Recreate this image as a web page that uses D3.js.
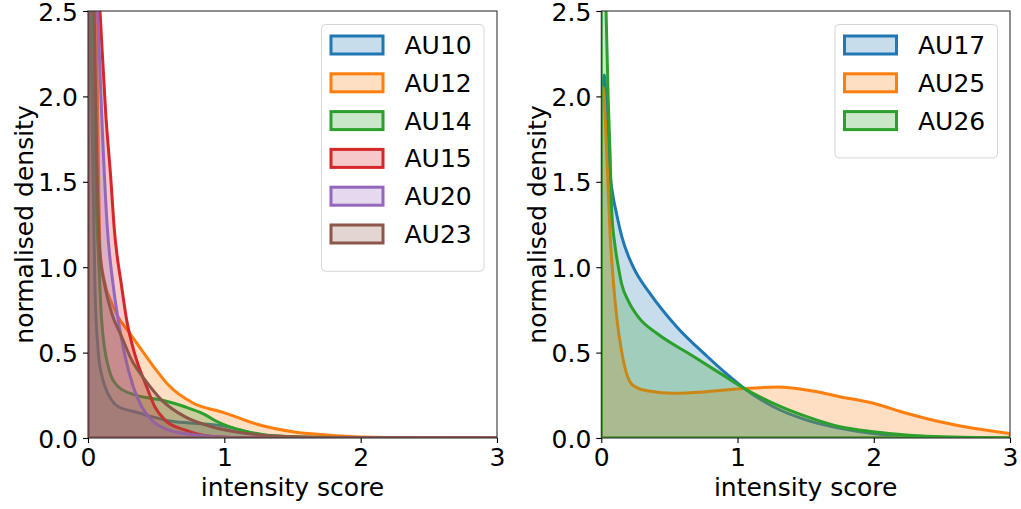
<!DOCTYPE html>
<html>
<head>
<meta charset="utf-8">
<script src="https://cdn.jsdelivr.net/npm/d3@7"></script>
<style>
  html, body { margin: 0; padding: 0; background: #fff; }
  svg { display: block; font-family: "DejaVu Sans", sans-serif; }
</style>
</head>
<body>
<svg id="chart" width="1021" height="509"></svg>
<script>
// Tick values shared by both panels
const xTicks = [0, 1, 2, 3];
const yTicks = [0, 0.5, 1.0, 1.5, 2.0, 2.5];

// Left panel: action units and their density curves
const leftNames = ["AU10", "AU12", "AU14", "AU15", "AU20", "AU23"];
const au10X = [0, 0.01, 0.02, 0.035, 0.051, 0.076, 0.1, 0.125, 0.17, 0.222, 0.345, 0.467, 0.614, 0.834, 1.0, 1.1, 1.25, 1.4, 1.8, 2.4, 3];
const au10Y = [5.2, 3.6, 2.5, 1.6, 0.886, 0.496, 0.37, 0.30, 0.225, 0.183, 0.154, 0.125, 0.098, 0.084, 0.07, 0.05, 0.022, 0.01, 0.002, 0.0005, 0];
const au12X = [0, 0.03, 0.06, 0.073, 0.088, 0.12, 0.174, 0.22, 0.3, 0.38, 0.47, 0.59, 0.77, 0.99, 1.08, 1.26, 1.5, 1.75, 2.0, 2.4, 3];
const au12Y = [4.6, 3.5, 2.5, 1.8, 1.1, 0.92, 0.79, 0.71, 0.62, 0.53, 0.43, 0.31, 0.205, 0.15, 0.125, 0.076, 0.037, 0.018, 0.006, 0.001, 0];
const au14X = [0, 0.02, 0.04, 0.05, 0.06, 0.076, 0.1, 0.149, 0.222, 0.345, 0.54, 0.71, 0.85, 0.95, 1.05, 1.15, 1.3, 1.5, 1.75, 2.2, 3];
const au14Y = [5.5, 3.6, 2.5, 1.8, 1.4, 1.08, 0.69, 0.417, 0.30, 0.252, 0.222, 0.183, 0.14, 0.095, 0.062, 0.04, 0.018, 0.008, 0.004, 0.001, 0];
const au15X = [0, 0.04, 0.088, 0.13, 0.169, 0.19, 0.247, 0.284, 0.34, 0.43, 0.49, 0.565, 0.71, 0.9, 1.2, 3];
const au15Y = [3.9, 3.2, 2.5, 1.9, 1.5, 1.25, 0.886, 0.69, 0.5, 0.30, 0.183, 0.105, 0.047, 0.01, 0.001, 0];
const au20X = [0, 0.035, 0.071, 0.1, 0.14, 0.186, 0.222, 0.266, 0.332, 0.394, 0.467, 0.59, 0.76, 1.1, 3];
const au20Y = [4.0, 3.1, 2.5, 1.9, 1.25, 0.886, 0.69, 0.5, 0.30, 0.183, 0.105, 0.047, 0.02, 0.001, 0];
const au23X = [0, 0.02, 0.045, 0.065, 0.088, 0.125, 0.174, 0.247, 0.32, 0.418, 0.54, 0.71, 0.907, 1.078, 1.26, 1.5, 1.8, 3];
const au23Y = [5.0, 3.6, 2.5, 1.6, 1.08, 0.886, 0.73, 0.593, 0.457, 0.34, 0.222, 0.125, 0.066, 0.037, 0.018, 0.007, 0.002, 0];

// Right panel: action units and their density curves
const rightNames = ["AU17", "AU25", "AU26"];
const au17X = [0, 0.01, 0.022, 0.035, 0.05, 0.065, 0.085, 0.11, 0.15, 0.235, 0.357, 0.553, 0.774, 0.92, 1.05, 1.263, 1.508, 1.752, 1.997, 2.24, 2.6, 3];
const au17Y = [1.95, 2.08, 2.125, 1.98, 1.72, 1.54, 1.42, 1.32, 1.18, 1.0, 0.847, 0.652, 0.48, 0.375, 0.29, 0.183, 0.105, 0.057, 0.027, 0.01, 0.002, 0];
const au25X = [0, 0.015, 0.03, 0.064, 0.1, 0.161, 0.21, 0.26, 0.35, 0.529, 0.774, 1.05, 1.3, 1.508, 1.752, 1.997, 2.24, 2.486, 2.73, 3];
const au25Y = [1.9, 2.05, 1.85, 1.2, 0.81, 0.457, 0.33, 0.295, 0.275, 0.262, 0.271, 0.29, 0.298, 0.281, 0.242, 0.203, 0.145, 0.095, 0.057, 0.027];
const au26X = [0, 0.015, 0.035, 0.05, 0.065, 0.076, 0.1, 0.125, 0.15, 0.2, 0.28, 0.407, 0.651, 0.85, 1.05, 1.263, 1.508, 1.752, 1.997, 2.24, 2.73, 3];
const au26Y = [4.0, 3.0, 2.5, 2.0, 1.65, 1.335, 1.13, 1.003, 0.90, 0.80, 0.70, 0.613, 0.49, 0.39, 0.29, 0.203, 0.125, 0.066, 0.037, 0.018, 0.003, 0.001];

const tab10 = ["#1f77b4", "#ff7f0e", "#2ca02c", "#d62728", "#9467bd", "#8c564b"];

const zip = (xs, ys) => xs.map((x, i) => ({ x, y: ys[i] }));

const leftSeries = [
  { name: leftNames[0], color: tab10[0], pts: zip(au10X, au10Y) },
  { name: leftNames[1], color: tab10[1], pts: zip(au12X, au12Y) },
  { name: leftNames[2], color: tab10[2], pts: zip(au14X, au14Y) },
  { name: leftNames[3], color: tab10[3], pts: zip(au15X, au15Y) },
  { name: leftNames[4], color: tab10[4], pts: zip(au20X, au20Y) },
  { name: leftNames[5], color: tab10[5], pts: zip(au23X, au23Y) }
];
const rightSeries = [
  { name: rightNames[0], color: tab10[0], pts: zip(au17X, au17Y) },
  { name: rightNames[1], color: tab10[1], pts: zip(au25X, au25Y) },
  { name: rightNames[2], color: tab10[2], pts: zip(au26X, au26Y) }
];

const svg = d3.select("#chart");
const fontSize = 25;
const plotTop = 11, plotBottom = 438;

function panel(id, left, right, series, legend) {
  const x = d3.scaleLinear().domain([0, 3]).range([left, right]);
  const y = d3.scaleLinear().domain([0, 2.5]).range([plotBottom, plotTop]);
  const g = svg.append("g");

  g.append("clipPath").attr("id", "clip-" + id)
    .append("rect").attr("x", left).attr("y", plotTop)
    .attr("width", right - left).attr("height", plotBottom - plotTop);

  const area = d3.area()
    .x(d => x(d.x)).y0(y(0)).y1(d => y(d.y))
    .curve(d3.curveMonotoneX);

  // filled density curves, each outlined in its full colour
  const plot = g.append("g").attr("clip-path", `url(#clip-${id})`);
  series.forEach(s => {
    const c = d3.color(s.color);
    c.opacity = 0.25;
    plot.append("path")
      .datum(s.pts)
      .attr("d", area)
      .attr("fill", c.formatRgb())
      .attr("stroke", s.color)
      .attr("stroke-width", 3)
      .attr("stroke-linejoin", "round");
  });

  // spines
  g.append("rect")
    .attr("x", left).attr("y", plotTop)
    .attr("width", right - left).attr("height", plotBottom - plotTop)
    .attr("fill", "none").attr("stroke", "#333").attr("stroke-width", 1.1);

  const xAxis = g.append("g").attr("transform", `translate(0,${plotBottom})`)
    .call(d3.axisBottom(x).tickValues(xTicks).tickFormat(d3.format("d")).tickSize(5).tickPadding(5));
  const yAxis = g.append("g").attr("transform", `translate(${left},0)`)
    .call(d3.axisLeft(y).tickValues(yTicks).tickFormat(d3.format(".1f")).tickSize(5).tickPadding(5));
  [xAxis, yAxis].forEach(a => {
    a.select(".domain").remove();
    a.selectAll("line").attr("stroke", "#000").attr("stroke-width", 1.1);
    a.selectAll("text").attr("fill", "#000")
      .style("font-size", fontSize + "px")
      .style("font-family", "DejaVu Sans, sans-serif");
  });
  xAxis.selectAll("text").attr("dy", "0.71em");
  yAxis.selectAll("text").attr("dy", "0.36em");

  g.append("text")
    .attr("x", (left + right) / 2).attr("y", 496)
    .attr("text-anchor", "middle")
    .style("font-size", fontSize + "px")
    .text("intensity score");

  g.append("text")
    .attr("transform", `translate(${left - 55},${(plotTop + plotBottom) / 2}) rotate(-90)`)
    .attr("text-anchor", "middle")
    .style("font-size", fontSize + "px")
    .text("normalised density");

  // legend
  const lg = g.append("g");
  lg.append("rect")
    .attr("x", legend.x).attr("y", legend.y)
    .attr("width", legend.w).attr("height", 20 + series.length * 37.8)
    .attr("rx", 4).attr("ry", 4)
    .attr("fill", "rgba(255,255,255,0.8)")
    .attr("stroke", "#d6d6d6").attr("stroke-width", 1);
  series.forEach((s, i) => {
    const cy = legend.y + 20.5 + i * 37.8;
    const c = d3.color(s.color);
    c.opacity = 0.25;
    lg.append("rect")
      .attr("x", legend.x + 9.5).attr("y", cy - 9)
      .attr("width", 52).attr("height", 18)
      .attr("fill", c.formatRgb())
      .attr("stroke", s.color).attr("stroke-width", 3);
    lg.append("text")
      .attr("x", legend.x + 83).attr("y", cy)
      .attr("dy", "0.36em")
      .style("font-size", fontSize + "px")
      .text(s.name);
  });
}

panel("left", 88, 497, leftSeries, { x: 321.5, y: 24.5, w: 162.5 });
panel("right", 601.3, 1010, rightSeries, { x: 835, y: 24.5, w: 162.5 });
</script>
</body>
</html>
